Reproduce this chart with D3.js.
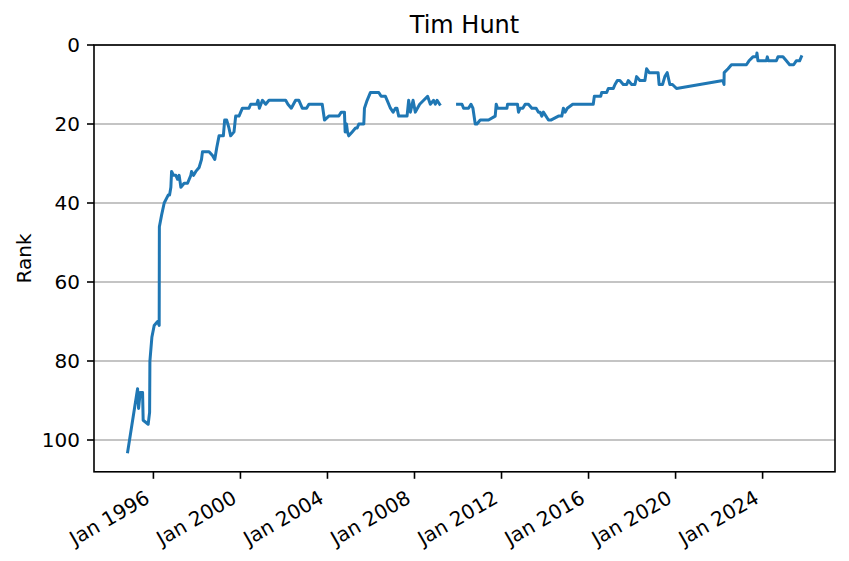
<!DOCTYPE html>
<html>
<head>
<meta charset="utf-8">
<script src="https://cdn.jsdelivr.net/npm/d3@7"></script>
<style>
  html, body { margin: 0; padding: 0; background: #fff; }
  text { font-family: "DejaVu Sans", sans-serif; fill: #000; }
</style>
</head>
<body>
<svg id="chart" width="849" height="561"></svg>
<script>
const title = "Tim Hunt";
const yLabel = "Rank";

// Dates of the rank observations (null rank = gap in the record)
const dates = [
  "1994-10-26","1995-04-10","1995-04-27","1995-05-24","1995-07-03","1995-07-13","1995-10-05","1995-10-29",
  "1995-11-03","1995-12-06","1996-01-14","1996-03-11","1996-04-07","1996-04-10","1996-05-18","1996-06-30",
  "1996-09-05","1996-09-28","1996-10-20","1996-11-01","1996-12-05","1997-01-12","1997-02-10","1997-03-08",
  "1997-04-06","1997-05-31","1997-07-27","1997-09-20","1997-10-02","1997-11-05","1997-12-13","1998-02-06",
  "1998-03-18","1998-04-04","1998-07-23","1998-09-19","1998-10-27","1998-11-29","1999-01-07","1999-03-20",
  "1999-04-11","1999-05-15","1999-06-22","1999-07-21","1999-09-15","1999-10-13","1999-12-08","2000-02-03",
  "2000-05-24","2000-06-21","2000-09-30","2000-10-22","2000-11-14","2001-01-04","2001-02-28","2001-04-24",
  "2002-01-29","2002-03-08","2002-05-04","2002-07-15","2002-09-08","2002-11-04","2003-01-15","2003-02-23",
  "2003-10-05","2003-11-12","2004-01-23","2004-05-15","2004-07-09","2004-08-18","2004-10-12","2004-10-24",
  "2004-11-15","2004-12-02","2004-12-23","2005-02-19","2005-04-16","2005-05-14","2005-06-10","2005-09-02",
  "2005-09-13","2005-10-28","2005-12-23","2006-05-11","2006-06-20","2006-08-31","2006-09-29","2006-11-23",
  "2007-01-07","2007-02-15","2007-03-12","2007-04-11","2007-08-29","2007-09-25","2007-10-24","2007-12-08",
  "2008-01-15","2008-03-28","2008-06-03","2008-08-08","2008-09-23","2008-11-17","2008-12-16","2009-01-14",
  "2009-02-26","2009-07-01","2009-12-24","2010-03-08","2010-04-04","2010-06-26","2010-08-06","2010-09-08",
  "2010-10-17","2010-11-14","2011-01-09","2011-05-28","2011-09-17","2011-10-04","2011-10-26","2012-04-01",
  "2012-04-11","2012-09-25","2012-10-12","2012-11-09","2012-12-24","2013-02-01","2013-03-28","2013-05-24",
  "2013-08-04","2013-09-12","2013-10-10","2013-11-07","2013-12-04","2014-02-27","2014-04-08","2014-08-13",
  "2014-10-09","2014-11-04","2014-12-03","2015-01-10","2015-04-10","2016-03-20","2016-04-07","2016-07-23",
  "2016-08-09","2016-11-01","2016-11-28","2017-02-20","2017-03-20","2017-04-28","2017-06-10","2017-08-06",
  "2017-10-02","2017-10-29","2017-12-25","2018-02-18","2018-03-18","2018-05-12","2018-08-04","2018-09-02",
  "2018-10-15","2019-03-14","2019-03-31","2019-05-27","2019-07-05","2019-08-13","2019-09-27","2019-11-10",
  "2020-01-17","2022-03-07","2022-03-24","2022-03-27","2022-05-31","2022-07-27","2023-04-04","2023-05-18",
  "2023-07-23","2023-09-19","2023-09-28","2023-10-15","2024-03-04","2024-03-20","2024-04-07","2024-08-19",
  "2024-09-15","2024-12-08","2025-02-03","2025-03-30","2025-06-05","2025-07-19","2025-09-13","2025-10-12"
];
const ranks = [
  103,87,92,88,88,95,96,93,
  80,74,71,70,71,46,43,40,
  38,38,36,32,33,33,34,33,
  36,35,35,33,32,33,32,31,
  29,27,27,28,29,26,23,23,
  19,19,21,23,22,18,18,16,
  16,15,15,14,16,14,15,14,
  14,15,16,14,14,16,16,15,
  15,19,18,18,18,17,17,22,
  20,22,23,22,21,21,20,20,
  16,14,12,12,13,13,14,16,
  17,16,16,18,18,14,17,14,
  17,15,14,13,15,14,15,14,
  15,null,15,15,16,16,15,16,
  20,20,19,19,18,15,16,16,
  15,15,17,16,16,15,15,16,
  16,17,17,18,17,19,19,18,
  18,16,17,16,15,15,13,13,
  12,12,11,11,10,9,9,10,
  10,9,10,10,8,9,9,6,
  7,7,10,10,8,7,10,10,
  11,9,10,7,6,5,5,4,
  3,3,2,4,4,3,4,4,
  3,3,4,5,5,4,4,3
];
const yTicks = [0, 20, 40, 60, 80, 100];
const xTickYears = [1996, 2000, 2004, 2008, 2012, 2016, 2020, 2024];

const parse = d3.timeParse("%Y-%m-%d");
const data = dates.map((d, i) => ({ date: parse(d), rank: ranks[i] }));

const svg = d3.select("#chart");
const m = { left: 94, right: 835, top: 45, bottom: 471.8 };

const valid = data.filter(d => d.rank !== null);
const [xmin, xmax] = d3.extent(valid, d => d.date);
const span = xmax - xmin;
const x = d3.scaleTime()
  .domain([new Date(+xmin - 0.05 * span), new Date(+xmax + 0.05 * span)])
  .range([m.left, m.right]);
const rmax = d3.max(valid, d => d.rank), rmin = d3.min(valid, d => d.rank);
const y = d3.scaleLinear()
  .domain([0, rmax + 0.05 * (rmax - rmin)])
  .range([m.top, m.bottom]);

// grid
svg.append("g").selectAll("line").data(yTicks).join("line")
  .attr("x1", m.left).attr("x2", m.right)
  .attr("y1", d => y(d)).attr("y2", d => y(d))
  .attr("stroke", "#b0b0b0").attr("stroke-width", 1.6);

// line
const line = d3.line()
  .defined(d => d.rank !== null)
  .x(d => x(d.date)).y(d => y(d.rank));
svg.append("path").datum(data)
  .attr("d", line)
  .attr("fill", "none")
  .attr("stroke", "#1f77b4")
  .attr("stroke-width", 3)
  .attr("stroke-linejoin", "round")
  .attr("stroke-linecap", "square");

// spines
svg.append("rect")
  .attr("x", m.left).attr("y", m.top)
  .attr("width", m.right - m.left).attr("height", m.bottom - m.top)
  .attr("fill", "none").attr("stroke", "#000").attr("stroke-width", 1.6);

// y axis
const yAxis = svg.append("g");
yAxis.selectAll("line").data(yTicks).join("line")
  .attr("x1", m.left - 7).attr("x2", m.left)
  .attr("y1", d => y(d)).attr("y2", d => y(d))
  .attr("stroke", "#000").attr("stroke-width", 1.6);
yAxis.selectAll("text").data(yTicks).join("text")
  .attr("x", m.left - 14).attr("y", d => y(d))
  .attr("dy", "0.36em")
  .attr("text-anchor", "end")
  .attr("font-size", 20)
  .text(d => d);

// x axis
const fmt = d3.timeFormat("%b %Y");
const xTicks = xTickYears.map(yr => new Date(yr, 0, 1));
const xAxis = svg.append("g");
xAxis.selectAll("line").data(xTicks).join("line")
  .attr("x1", d => x(d)).attr("x2", d => x(d))
  .attr("y1", m.bottom).attr("y2", m.bottom + 7)
  .attr("stroke", "#000").attr("stroke-width", 1.6);
xAxis.selectAll("text").data(xTicks).join("text")
  .attr("transform", d => `translate(${x(d)},${m.bottom + 14 + 20.2}) rotate(-30)`)
  .attr("y", -4.7)
  .attr("text-anchor", "end")
  .attr("font-size", 20)
  .text(d => fmt(d));

// labels
svg.append("text")
  .attr("x", (m.left + m.right) / 2).attr("y", 33)
  .attr("text-anchor", "middle")
  .attr("font-size", 24)
  .text(title);
svg.append("text")
  .attr("transform", `translate(30.5,${(m.top + m.bottom) / 2}) rotate(-90)`)
  .attr("text-anchor", "middle")
  .attr("font-size", 20)
  .text(yLabel);
</script>
</body>
</html>
